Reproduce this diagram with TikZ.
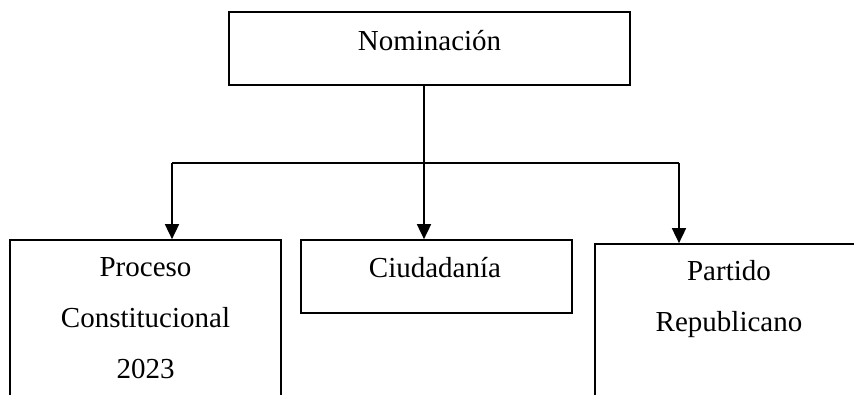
\documentclass[tikz,border=0pt]{standalone}
\usepackage{fontspec}
\setmainfont{Liberation Serif}
\usetikzlibrary{arrows.meta, positioning}

\begin{document}
\begin{tikzpicture}[x=1pt, y=-1pt,
  box/.style={draw, line width=1.7pt, inner sep=0pt},
  txt/.style={font=\fontsize{29}{51}\selectfont, align=center, inner sep=0pt, anchor=base},
  arr/.style={line width=1.7pt, -{Triangle[length=15pt, width=14pt]}}]
\clip (0,0) rectangle (854,394);
% boxes
\node[box, minimum width=401pt, minimum height=73pt] (nom) at (429.5,48.5) {};
\node[box, minimum width=271pt, minimum height=200pt] (proc) at (145.5,340) {};
\node[box, minimum width=271pt, minimum height=73pt] (ciud) at (436.5,276.5) {};
\node[box, minimum width=285pt, minimum height=200pt] (part) at (737.5,344) {};
% texts (base = last line)
\node[txt] (nomtxt) at (429.5,50) {Nominación};
\node[txt] (proctxt) at (145.5,378) {Proceso\\Constitucional\\2023};
\node[txt] (ciudtxt) at (435,277) {Ciudadanía};
\node[txt] (parttxt) at (729,331) {Partido\\Republicano};
% connectors
\coordinate (hl) at (172,163);
\coordinate (hr) at (679,163);
\coordinate (fork) at (424,163);
\draw[line width=1.7pt] (hl) -- (hr);
\draw[arr] (hl) -- (hl |- proc.north);
\draw[arr] (hr) -- (hr |- part.north);
\draw[arr] (nom.south -| fork) -- (fork |- ciud.north);
\end{tikzpicture}
\end{document}
